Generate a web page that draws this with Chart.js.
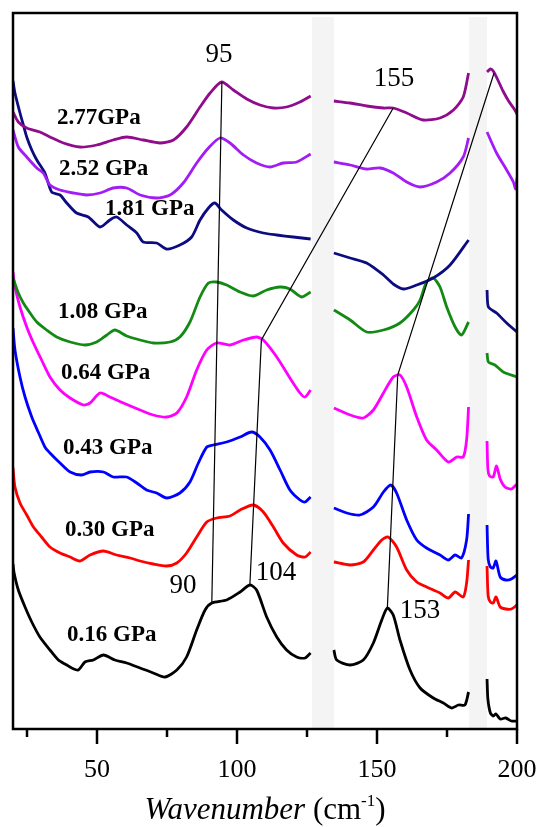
<!DOCTYPE html>
<html lang="en">
<head>
    <meta charset="UTF-8">
    <script src="https://cdn.jsdelivr.net/npm/chart.js"></script>
    <style>
        html, body { margin: 0; padding: 0; background: #fff; }
    </style>
</head>
<body>
    <canvas id="ramanChart" width="540" height="827"></canvas>

    <script>
        // x range and the two blanked-out regions of the spectrum
        const xMin = 20;
        const xMax = 200;
        const majorTicks = [50, 100, 150, 200];
        const minorTicks = [25, 75, 125, 175];
        const gapBands = [[126.8, 134.6], [182.9, 189.3]];

        const pressures = ['2.77GPa', '2.52 GPa', '1.81 GPa', '1.08 GPa', '0.64 GPa', '0.43 GPa', '0.30 GPa', '0.16 GPa'];
        const lineColors = ['#900c8c', '#a31cf5', '#0c0c80', '#138a13', '#ff00ff', '#0000ff', '#ff0000', '#000000'];

        // each spectrum: three segments [wavenumber, offset intensity]
        const p277 = [
            [[20, 617], [21.9, 607], [24.9, 601], [29.6, 597], [33.2, 592], [38, 586], [43.9, 582], [49.9, 584], [55.8, 589], [60.6, 592], [66.5, 589], [72.5, 586], [77.3, 589], [82, 602], [86.8, 622], [90.4, 636], [94.5, 647], [98.7, 639], [103.5, 630], [108.2, 624], [113, 621], [117.7, 622], [122.5, 627], [126.3, 633]],
            [[134.6, 628], [140.4, 626], [146.3, 623], [152.3, 621], [155.8, 621], [160.6, 616], [166.5, 609], [172.5, 611], [177.3, 619], [180.8, 632], [182.7, 656]],
            [[189.3, 657], [190.5, 660], [191.5, 658], [193, 650], [195, 638], [197, 628], [199, 620], [200, 615]]
        ];
        const p252 = [
            [[20, 599], [21.9, 582], [24.9, 572], [28.5, 561], [30.8, 556], [33.2, 544], [36.8, 539], [41.5, 536], [46.3, 534], [51.1, 536], [55.8, 541], [60.6, 541], [65.4, 534], [71.3, 531], [76.1, 534], [80.8, 546], [85.6, 566], [89.8, 581], [93.9, 591], [97.5, 586], [102.3, 574], [107, 566], [111.8, 562], [116.5, 566], [121.3, 567], [126.3, 575]],
            [[134.6, 567], [140.4, 564], [146.3, 560], [151.1, 561], [155.8, 556], [160.6, 547], [165.4, 542], [171.3, 547], [176.1, 556], [180.8, 572], [182.7, 591]],
            [[189.3, 597], [192.7, 576], [196.3, 559], [198.7, 547], [199.5, 540], [200, 551]]
        ];
        const p181 = [
            [[20, 648], [20.7, 636], [22.5, 616], [23.7, 604], [24.9, 592], [26.7, 579], [28.5, 569], [31.4, 556], [33.8, 537], [36.8, 534], [39.2, 526], [42.7, 516], [46.9, 512], [51.1, 502], [54.6, 509], [57, 512], [60.6, 504], [64.2, 496], [66.5, 487], [71.3, 486], [74.9, 480], [79.6, 484], [83.8, 492], [86.8, 509], [89.8, 521], [92.1, 526], [94.5, 519], [98.7, 509], [103.5, 501], [109.4, 496], [114.2, 494], [120.1, 492], [126.3, 490]],
            [[134.6, 476], [140.4, 471], [146.3, 466], [152.3, 454], [155.8, 445], [159.4, 440], [164.2, 444], [170.1, 451], [176.1, 464], [182.7, 489]],
            [[189.3, 439], [189.8, 422], [192.7, 416], [196.3, 406], [200, 397]]
        ];
        const p108 = [
            [[20, 451], [21.9, 436], [23.7, 426], [26.1, 416], [28.5, 407], [32, 399], [35.6, 392], [40.4, 387], [45.7, 384], [49.9, 387], [53.5, 394], [56.4, 399], [60.6, 393], [65.4, 389], [70.1, 386], [76.1, 387], [79.6, 392], [83.2, 407], [86.8, 432], [89.8, 446], [92.7, 447], [96.3, 444], [101.1, 437], [105.8, 433], [110.6, 439], [115.4, 442], [118.9, 440], [123.1, 432], [126.3, 437]],
            [[134.6, 419], [140.4, 409], [146.3, 397], [152.3, 399], [158.2, 406], [163, 419], [165.4, 429], [167.7, 447], [170.1, 451], [172.5, 442], [174.9, 422], [177.9, 402], [180.2, 394], [182.7, 407]],
            [[189.3, 376], [189.8, 367], [192.1, 364], [195.1, 357], [200, 352]]
        ];
        const p064 = [
            [[20, 457], [20.7, 442], [22.5, 422], [24.9, 402], [27.3, 386], [30.2, 369], [33.2, 352], [36.8, 339], [40.4, 331], [45.1, 324], [47.5, 326], [51.1, 336], [54.6, 332], [59.4, 326], [65.4, 319], [70.1, 314], [74.9, 312], [78.5, 316], [82, 332], [85.6, 359], [89.2, 379], [92.7, 386], [97.5, 384], [102.3, 389], [107, 392], [109.4, 389], [114.2, 372], [118.9, 351], [122.5, 336], [124.3, 332], [126.3, 339]],
            [[134.6, 321], [140.4, 314], [145.1, 311], [148.7, 319], [152.3, 336], [155.8, 352], [158.2, 354], [160.6, 342], [164.2, 312], [167.7, 289], [171.3, 279], [175.5, 267], [178.5, 272], [180.8, 272], [182, 289], [182.7, 322]],
            [[189.3, 288], [189.6, 260], [190.2, 253], [191.5, 252], [192.7, 263], [194, 250], [195.7, 242], [198, 240], [200, 245]]
        ];
        const p043 = [
            [[20, 401], [20.7, 379], [22.5, 352], [24.3, 332], [26.7, 312], [29, 297], [31.4, 282], [33.2, 276], [36.8, 266], [40.4, 257], [44.5, 254], [47.5, 257], [52.3, 257], [55.8, 252], [60.6, 252], [64.2, 246], [67.7, 239], [71.3, 236], [74.9, 231], [79.6, 236], [83.2, 247], [86.2, 266], [89.2, 282], [91.5, 284], [96.3, 287], [101.1, 292], [105.2, 297], [108.2, 292], [111.8, 279], [115.4, 259], [118.9, 239], [122.5, 229], [124.3, 227], [126.3, 232]],
            [[134.6, 221], [139.2, 216], [143.9, 214], [148.7, 222], [152.3, 237], [154.9, 244], [157, 236], [160.6, 209], [164.2, 189], [167.7, 181], [172.5, 174], [175.5, 169], [177.9, 174], [180.2, 171], [182, 189], [182.7, 215]],
            [[189.3, 204], [189.7, 170], [190.5, 162], [191.5, 161], [192.5, 168], [194, 152], [196, 149], [198, 150], [200, 154]]
        ];
        const p030 = [
            [[20, 261], [20.7, 242], [22.5, 226], [24.9, 214], [27.3, 202], [30.2, 192], [33.2, 182], [36.8, 176], [40.4, 172], [43.9, 168], [47.5, 174], [52.3, 178], [57, 174], [61.8, 171], [65.4, 168], [70.1, 165], [74.9, 163], [78.5, 166], [82, 176], [85.6, 192], [89.2, 207], [92.7, 211], [97.5, 213], [101.1, 219], [105.8, 224], [109.4, 217], [113, 202], [116.5, 186], [121.3, 174], [124.3, 172], [126.3, 177]],
            [[134.6, 167], [140.4, 164], [145.1, 167], [148.7, 179], [151.7, 189], [154, 192], [157, 182], [160.6, 159], [164.2, 147], [167.7, 142], [172.5, 136], [175.5, 131], [177.9, 137], [180.8, 132], [182, 146], [182.7, 169]],
            [[189.3, 163], [189.7, 133], [190.5, 127], [191.5, 126], [192.5, 132], [194, 122], [196, 120], [198, 120], [200, 124]]
        ];
        const p016 = [
            [[20, 165], [20.4, 156], [21.9, 139], [24.3, 122], [26.7, 107], [29.6, 92], [33.2, 79], [36.2, 69], [39.2, 64], [41, 61], [43.3, 59], [45.7, 67], [48.7, 69], [52.3, 74], [56.4, 69], [60.6, 66], [65.4, 61], [70.1, 56], [74.3, 52], [78.5, 59], [82, 72], [85.6, 99], [88.6, 119], [91, 126], [96.3, 129], [101.1, 137], [104.6, 144], [107, 139], [110.6, 112], [114.2, 92], [117.7, 79], [121.3, 72], [124.3, 71], [126.3, 76]],
            [[134.6, 79], [135.6, 69], [140.4, 64], [145.1, 69], [148.7, 86], [151.7, 109], [153.7, 121], [155.8, 114], [158.2, 89], [161.8, 59], [165.4, 41], [170.1, 31], [173.7, 26], [176.7, 21], [179.1, 24], [181.4, 24], [182.7, 37]],
            [[189.3, 50], [189.6, 30], [190.5, 16], [191.5, 13], [192.5, 15], [194, 10], [196, 11], [198, 8], [200, 8]]
        ];
        const spectra = [p277, p252, p181, p108, p064, p043, p030, p016];

        // peak-shift guide lines
        const guide90 = [[91, 126], [94.6, 647]];
        const guide104 = [[104.6, 144], [108.7, 389], [155.8, 621]];
        const guide153 = [[153.7, 121], [157.4, 354], [191.8, 656]];

        const peakNames = ['95', '155', '90', '104', '153'];
        const peakAt = [[93.6, 674], [156.1, 650], [80.7, 143], [113.9, 156], [165.4, 118]];
        const pressureAt = [[35.7, 611], [36.4, 560], [52.9, 520], [36.1, 417], [37.1, 356], [37.9, 281], [38.6, 199], [39.3, 94]];

        function toPoints(segments) {
            const pts = [];
            segments.forEach((seg, i) => {
                if (i > 0) {
                    const prev = segments[i - 1];
                    pts.push({ x: (prev[prev.length - 1][0] + seg[0][0]) / 2, y: null });
                }
                seg.forEach(p => pts.push({ x: p[0], y: p[1] }));
            });
            return pts;
        }

        const datasets = [];
        [guide90, guide104, guide153].forEach(g => {
            datasets.push({
                data: g.map(p => ({ x: p[0], y: p[1] })),
                borderColor: '#000',
                borderWidth: 1.2,
                tension: 0,
                order: -1
            });
        });
        spectra.forEach((s, i) => {
            datasets.push({
                label: pressures[i],
                data: toPoints(s),
                borderColor: lineColors[i],
                borderWidth: 2.8,
                tension: 0.25,
                spanGaps: false
            });
        });

        const serif = '"Liberation Serif", "Times New Roman", serif';

        // background bands, frame, tick marks, labels and axis title
        const decorations = {
            id: 'decorations',
            beforeDatasetsDraw(chart) {
                const { ctx, chartArea, scales } = chart;
                ctx.save();
                ctx.fillStyle = '#f4f4f4';
                const top = scales.y.getPixelForValue(712);
                gapBands.forEach(b => {
                    const x0 = scales.x.getPixelForValue(b[0]);
                    const x1 = scales.x.getPixelForValue(b[1]);
                    ctx.fillRect(x0, top, x1 - x0, chartArea.bottom - top);
                });
                ctx.restore();
            },
            afterDraw(chart) {
                const { ctx, chartArea, scales } = chart;
                ctx.save();
                ctx.strokeStyle = '#000';
                ctx.lineWidth = 2.5;
                ctx.strokeRect(chartArea.left, chartArea.top, chartArea.right - chartArea.left, chartArea.bottom - chartArea.top);

                ctx.beginPath();
                majorTicks.forEach(v => {
                    const x = scales.x.getPixelForValue(v);
                    ctx.moveTo(x, chartArea.bottom);
                    ctx.lineTo(x, chartArea.bottom + 15);
                });
                minorTicks.forEach(v => {
                    const x = scales.x.getPixelForValue(v);
                    ctx.moveTo(x, chartArea.bottom);
                    ctx.lineTo(x, chartArea.bottom + 8);
                });
                ctx.stroke();

                ctx.fillStyle = '#000';
                ctx.textBaseline = 'middle';
                ctx.textAlign = 'left';
                ctx.font = 'bold 23px ' + serif;
                pressures.forEach((t, i) => {
                    ctx.fillText(t, scales.x.getPixelForValue(pressureAt[i][0]), scales.y.getPixelForValue(pressureAt[i][1]));
                });

                ctx.textAlign = 'center';
                ctx.font = '27px ' + serif;
                peakNames.forEach((t, i) => {
                    ctx.fillText(t, scales.x.getPixelForValue(peakAt[i][0]), scales.y.getPixelForValue(peakAt[i][1]));
                });

                // axis title: italic word, upright unit with superscript
                const parts = [
                    ['Wavenumber', 'italic 31px ' + serif, 0],
                    [' (cm', '31px ' + serif, 0],
                    ['-1', '17px ' + serif, -13],
                    [')', '31px ' + serif, 0]
                ];
                let total = 0;
                parts.forEach(p => { ctx.font = p[1]; total += ctx.measureText(p[0]).width; });
                let x = (chartArea.left + chartArea.right) / 2 - total / 2;
                const base = 819;
                ctx.textAlign = 'left';
                ctx.textBaseline = 'alphabetic';
                parts.forEach(p => {
                    ctx.font = p[1];
                    ctx.fillText(p[0], x, base + p[2]);
                    x += ctx.measureText(p[0]).width;
                });
                ctx.restore();
            }
        };

        const ctx = document.getElementById('ramanChart').getContext('2d');
        const ramanChart = new Chart(ctx, {
            type: 'line',
            data: { datasets: datasets },
            options: {
                responsive: false,
                animation: false,
                events: [],
                elements: { point: { radius: 0 } },
                layout: { padding: { left: 13, right: 23, top: 13, bottom: 41 } },
                plugins: { legend: { display: false }, tooltip: { enabled: false } },
                scales: {
                    x: {
                        type: 'linear',
                        min: xMin,
                        max: xMax,
                        afterBuildTicks: s => { s.ticks = majorTicks.map(v => ({ value: v })); },
                        afterFit: s => {
                            s.height = 57;
                            s.paddingLeft = 0;
                            s.paddingRight = 0;
                        },
                        ticks: {
                            color: '#000',
                            font: { family: serif, size: 26 },
                            padding: 26,
                            maxRotation: 0,
                            autoSkip: false
                        },
                        grid: { display: false, drawTicks: false },
                        border: { display: false }
                    },
                    y: { display: false, min: 0, max: 716 }
                }
            },
            plugins: [decorations]
        });
    </script>
</body>
</html>
